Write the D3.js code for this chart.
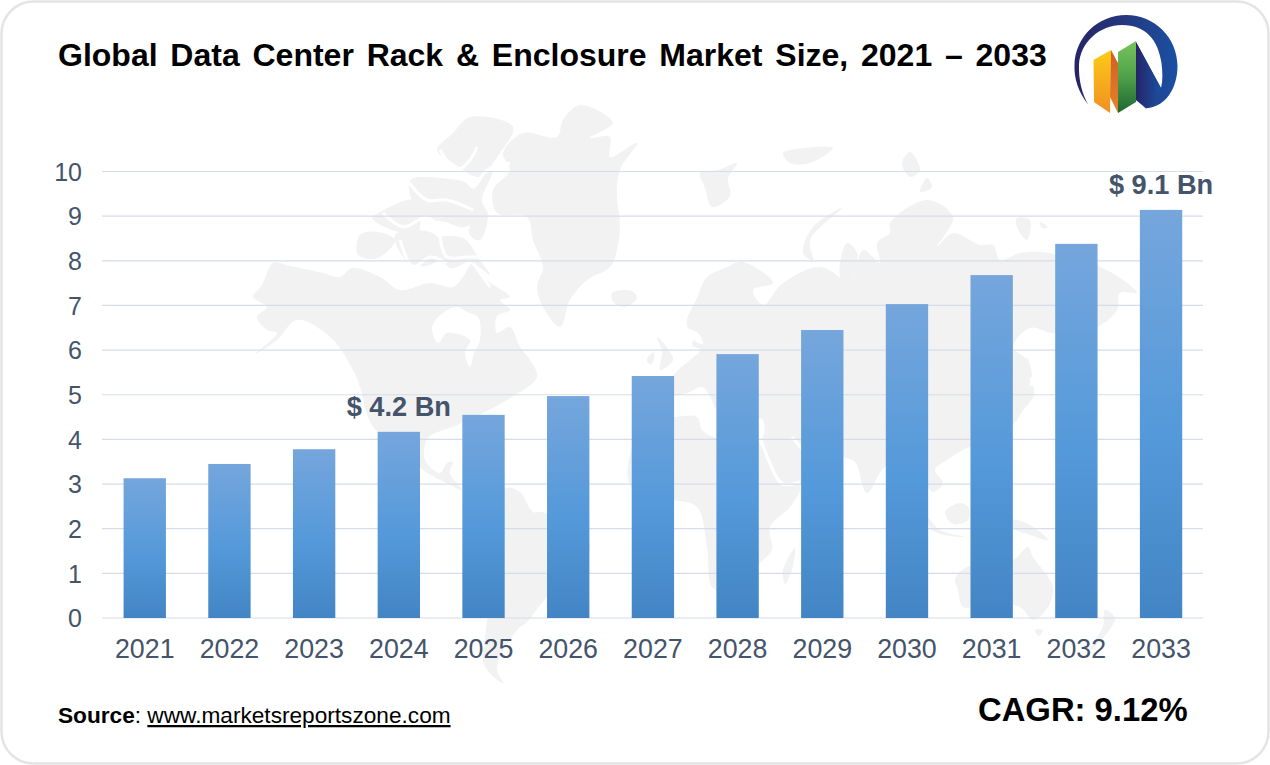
<!DOCTYPE html>
<html><head><meta charset="utf-8">
<script src="https://cdnjs.cloudflare.com/ajax/libs/d3/7.8.5/d3.min.js"></script>
<style>html,body{margin:0;padding:0;background:#fff}svg{display:block}text{font-family:"Liberation Sans",Arial,sans-serif}</style>
</head><body><svg id="c" width="1270" height="765"></svg>
<script>
const years = ["2021","2022","2023","2024","2025","2026","2027","2028","2029","2030","2031","2032","2033"];
const marketSize = [3.13,3.45,3.78,4.17,4.55,4.97,5.42,5.91,6.45,7.03,7.68,8.38,9.14];
const yTicks = [0,1,2,3,4,5,6,7,8,9,10];
const callouts = [{year:"2024",text:"$ 4.2 Bn"},{year:"2033",text:"$ 9.1 Bn"}];
const titleText = "Global Data Center Rack & Enclosure Market Size, 2021 – 2033";
const cagrText = "CAGR: 9.12%";

// decorative watermark outlines (background artwork, not data)
const landShapes = [
 // North + Central America
 [[253,297],[262,285],[273,263],[290,266],[323,273],[340,277],[352,268],[380,277],[400,290],[430,283],[453,287],[463,277],[473,263],[487,280],[510,297],[500,300],[510,310],[497,316],[497,333],[510,327],[520,347],[530,360],[537,377],[507,400],[483,413],[455,426],[428,438],[425,460],[440,473],[447,463],[453,462],[450,473],[462,490],[445,482],[423,470],[400,445],[373,427],[360,387],[353,370],[330,337],[297,320],[277,340],[255,354],[277,333],[267,330],[257,317],[267,307]],
 // Greenland
 [[580,105],[613,123],[590,138],[610,137],[610,157],[637,143],[620,170],[617,197],[620,223],[617,250],[610,267],[587,280],[570,300],[560,327],[543,307],[537,287],[543,267],[533,240],[527,217],[497,213],[493,190],[510,170],[503,153],[523,133],[557,137],[563,120]],
 // Arctic archipelago
 [[470,117],[513,127],[497,157],[480,177],[453,163],[437,150],[453,133]],
 [[410,180],[440,178],[470,185],[478,205],[470,228],[445,222],[420,215]],
 [[375,215],[415,200],[418,232],[392,230],[372,218]],
 [[360,235],[378,232],[395,240],[378,258],[358,255]],
 [[395,235],[430,232],[445,248],[430,265],[408,262]],
 [[435,240],[463,238],[480,260],[490,275],[470,262],[450,268]],
 [[478,180],[492,172],[482,200],[488,215],[480,240],[470,235]],
 // Iceland, Svalbard, British Isles
 [[612,293],[632,291],[637,298],[625,307],[614,303]],
 [[700,173],[718,170],[737,163],[728,178],[730,196],[712,207],[705,188]],
 [[657,337],[665,345],[673,360],[660,370],[662,352]],
 [[648,357],[654,352],[652,364],[647,362]],
 // Eurasia
 [[687,320],[697,298],[707,277],[725,268],[743,262],[773,283],[753,290],[763,305],[783,283],[820,267],[843,280],[853,290],[840,277],[847,243],[857,253],[853,283],[863,250],[880,263],[877,243],[890,233],[890,223],[927,200],[953,217],[937,247],[953,233],[980,245],[993,245],[1000,260],[1020,253],[1040,252],[1067,257],[1100,267],[1123,280],[1137,293],[1120,293],[1117,310],[1097,327],[1053,333],[1030,328],[1013,347],[1027,360],[1030,383],[1017,420],[985,445],[970,447],[947,460],[935,470],[943,483],[933,492],[925,483],[915,460],[885,467],[867,493],[855,462],[843,457],[820,445],[803,450],[800,486],[783,482],[765,450],[755,418],[720,410],[690,395],[675,400],[650,405],[645,392],[665,385],[678,370],[690,360],[700,350],[692,345],[697,333],[688,328]],
 // Africa
 [[640,412],[675,410],[712,414],[745,420],[762,448],[778,480],[800,487],[790,507],[770,527],[772,550],[760,563],[735,590],[713,588],[707,547],[697,507],[673,500],[640,495],[628,480],[632,445]],
 // South America
 [[507,488],[520,492],[533,512],[543,512],[570,530],[590,545],[575,575],[547,597],[527,622],[517,630],[497,667],[503,683],[484,665],[486,630],[490,590],[475,550],[480,515]],
 // Madagascar, Indonesia, Oceania, Arctic Russia
 [[783,570],[795,548],[792,570],[785,584]],
 [[945,512],[960,503],[968,507],[968,520],[953,524]],
 [[1013,520],[1030,525],[1048,540],[1030,535],[1013,528]],
 [[955,580],[965,568],[1013,560],[1028,547],[1033,557],[1053,587],[1048,607],[1033,620],[1020,607],[990,603],[963,607],[958,590]],
 [[1035,630],[1043,630],[1039,636]],
 [[1105,610],[1115,618],[1103,638],[1090,650],[1097,637],[1103,627]],
 [[842,208],[813,227],[803,253],[813,260],[810,240]],
 [[783,153],[833,148],[810,163],[790,163]],
 [[910,152],[920,170],[910,177],[902,163]],
 [[927,178],[932,187],[920,192]],
 [[1017,218],[1030,220],[1027,240],[1017,227]],
 [[1040,222],[1048,227],[1042,228]],
 [[1027,357],[1032,377],[1027,375]],
 [[1032,385],[1034,395],[1018,414],[1020,404]],
 [[928,518],[940,530],[966,537],[940,534],[930,528]]
];
const waterShapes = [
 // Hudson Bay
 [[432,327],[438,343],[447,333],[470,340],[465,353],[470,367],[474,353],[480,340],[478,317],[467,312],[457,307],[443,313]],
 // Mediterranean
 [[675,396],[690,392],[702,387],[712,400],[716,412],[725,420],[758,418],[763,420],[762,438],[717,438],[702,430],[697,417],[675,417],[645,420],[640,412]],
 // Baltic
 [[689,330],[698,333],[703,344],[694,340]]
];
const channels = [
 [[440,150],[457,170],[470,160],[477,147]],
 [[460,167],[473,187],[487,170],[510,163]],
 [[407,180],[427,200],[447,200],[473,210]],
 [[383,213],[403,227],[427,217],[443,230],[470,227]],
 [[400,240],[413,267],[430,257],[447,263]],
 [[440,237],[447,257],[467,257],[487,257]],
 [[473,263],[490,287]],
 [[760,437],[770,463],[782,484],[800,482]],
 [[792,437],[803,450]]
];

const svg = d3.select("#c");
const defs = svg.append("defs");
function grad(id, stops, x2=0, y2=1){
  const g = defs.append("linearGradient").attr("id",id).attr("x1",0).attr("y1",0).attr("x2",x2).attr("y2",y2);
  stops.forEach(s=>g.append("stop").attr("offset",s[0]).attr("stop-color",s[1]));
}
grad("barG",[[0,"#75a6dc"],[0.55,"#5499da"],[1,"#4385c4"]]);
grad("ringG",[[0,"#262466"],[0.5,"#24397f"],[1,"#1a50a3"]],1,0);
grad("nG",[[0,"#262466"],[1,"#1a50a3"]],1,0);
grad("yG",[[0,"#fdcb17"],[1,"#f08f22"]]);
grad("oG",[[0,"#cf5f22"],[1,"#e9812a"]]);
grad("gG",[[0,"#78c55c"],[0.5,"#4fa04a"],[1,"#1d6630"]]);

svg.append("rect").attr("x",1.5).attr("y",1.5).attr("width",1267).attr("height",762).attr("rx",32)
  .attr("fill","#fff").attr("stroke","#e4e4e4").attr("stroke-width",2.5);

const landLine = d3.line().curve(d3.curveCatmullRomClosed.alpha(0.5));
const mapG = svg.append("g");
mapG.selectAll("path.land").data(landShapes).join("path").attr("class","land").attr("d",landLine).attr("fill","#f2f2f2");
mapG.selectAll("path.water").data(waterShapes).join("path").attr("class","water").attr("d",landLine).attr("fill","#fff");
mapG.selectAll("path.chan").data(channels).join("path").attr("class","chan")
  .attr("d",d3.line().curve(d3.curveCatmullRom.alpha(0.5))).attr("fill","none").attr("stroke","#fff").attr("stroke-width",3);

const x = d3.scaleBand().domain(years).range([102.4,1203.4]).paddingInner(0.5).paddingOuter(0.25);
const y = d3.scaleLinear().domain([0,10]).range([618,171.5]);

svg.append("g").selectAll("line").data(yTicks).join("line")
  .attr("x1",102).attr("x2",1203).attr("y1",d=>y(d)).attr("y2",d=>y(d))
  .attr("stroke","#d6dce9").attr("stroke-width",1.2);

svg.append("g").selectAll("rect").data(years).join("rect")
  .attr("x",d=>x(d)).attr("width",x.bandwidth())
  .attr("y",(d,i)=>y(marketSize[i])).attr("height",(d,i)=>y(0)-y(marketSize[i]))
  .attr("fill","url(#barG)");

const yAxis = d3.axisLeft(y).tickValues(yTicks).tickSize(0).tickPadding(20);
const gy = svg.append("g").attr("transform","translate(102,0)").call(yAxis);
gy.select(".domain").remove();
gy.selectAll("text").attr("font-size",25).attr("fill","#44546a").attr("font-family","Liberation Sans").attr("dy","0.35em");

const xAxis = d3.axisBottom(x).tickSize(0).tickPadding(21);
const gx = svg.append("g").attr("transform","translate(0,618)").call(xAxis);
gx.select(".domain").remove();
gx.selectAll("text").attr("font-size",26.8).attr("fill","#44546a").attr("font-family","Liberation Sans");

svg.append("g").selectAll("text").data(callouts).join("text")
  .attr("x",d=>x(d.year)+x.bandwidth()/2)
  .attr("y",d=>y(marketSize[years.indexOf(d.year)])-16)
  .attr("text-anchor","middle").attr("font-size",27.2).attr("font-weight","bold").attr("fill","#44546a")
  .text(d=>d.text);

svg.append("text").attr("x",58).attr("y",66).attr("font-size",32).attr("font-weight","bold").attr("fill","#000")
  .attr("word-spacing",3.9).text(titleText);

const src = svg.append("text").attr("x",58).attr("y",723).attr("font-size",22.65).attr("fill","#000");
src.append("tspan").attr("font-weight","bold").text("Source");
src.append("tspan").text(": ");
src.append("tspan").attr("text-decoration","underline").text("www.marketsreportszone.com");

svg.append("text").attr("x",978).attr("y",721).attr("font-size",32.8).attr("font-weight","bold").attr("fill","#000").text(cagrText);

// logo artwork
const logo = svg.append("g");
logo.append("path").attr("fill","url(#ringG)")
  .attr("d","M1088.5,105 C1078,92 1074,78 1074.5,65 C1075,37 1098,15 1126,15 C1155,15 1177.5,38 1177.5,66 C1177.5,88 1166,106 1148,108 L1146,108.5 L1136,100 L1136,42 L1161,88 C1163,80 1162.5,72 1161.5,63 C1158,40 1146,25 1122,25 C1100,25 1080,42 1079,65 C1078.5,80 1082,94 1088.5,105 Z");
logo.append("path").attr("fill","url(#nG)").attr("d","M1136,42 L1161,88 C1158,96 1154,104 1148,108 L1136,100 Z");
logo.append("path").attr("fill","url(#yG)").attr("d","M1093.5,60 L1111,50 L1110,113 L1094,102 Z");
logo.append("path").attr("fill","url(#oG)").attr("d","M1111,50 L1118,63 L1118,113 L1110,97 Z");
logo.append("path").attr("fill","url(#gG)").attr("d","M1118,52 L1136,41 L1136,102 L1118,113 Z");
</script></body></html>
